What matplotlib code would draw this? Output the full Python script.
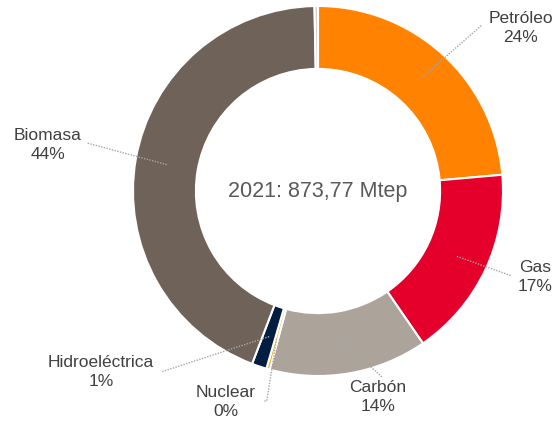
import numpy as np
import matplotlib
matplotlib.use("Agg")
import matplotlib.pyplot as plt

plt.rcParams['font.family'] = ['Liberation Sans', 'DejaVu Sans']

categories = ["Petróleo", "Gas", "Carbón", "Nuclear", "Hidroeléctrica", "Biomasa", "Otros"]
values = [23.6, 16.8, 13.8, 0.3, 1.3, 43.9, 0.3]
colors = ["#FF8200", "#E4002B", "#ACA39A", "#F0B323", "#041E42", "#6E6259", "#D0D0D0"]
center_text = "2021: 873,77 Mtep"

W, H = 555, 425
CX, CY, R = 318, 191, 185  # pixel layout of donut

def px(x, y):
    return (x - CX) / R, (CY - y) / R

# label layout (pixel positions): text center, leader end
label_layout = {
    "Petróleo": ((521, 28), (482, 25)),
    "Gas": ((535, 277), (512, 276)),
    "Carbón": ((378, 397), (382, 377)),
    "Nuclear": ((226, 402), (264, 401)),
    "Hidroeléctrica": ((101, 372), (161, 372)),
    "Biomasa": ((48, 145), (87, 143)),
}

fig = plt.figure(figsize=(W / 100, H / 100), dpi=100)
ax = fig.add_axes([0, 0, 1, 1])

wedges, _ = ax.pie(values, colors=colors, startangle=90, counterclock=False,
                   radius=1.0, wedgeprops=dict(width=0.34, edgecolor="white", linewidth=1.5))

for w, name, v in zip(wedges, categories, values):
    if name not in label_layout:
        continue
    (tx, ty), (ex, ey) = label_layout[name]
    mid = np.deg2rad((w.theta1 + w.theta2) / 2)
    sx, sy = 0.83 * np.cos(mid), 0.83 * np.sin(mid)
    exd, eyd = px(ex, ey)
    if name == "Nuclear":
        xs = [sx, exd + 0.015, exd]
        ys = [sy, eyd, eyd]
    else:
        xs = [sx, exd]
        ys = [sy, eyd]
    ax.plot(xs, ys, color="#A6A6A6", linestyle=(0, (1, 1)), linewidth=1.0, zorder=5)
    txd, tyd = px(tx, ty)
    ax.text(txd, tyd, f"{name}\n{round(v)}%", ha="center", va="center",
            fontsize=12.5, color="#404040", linespacing=1.3)

ax.text(0, 0, center_text, ha="center", va="center", fontsize=15.5, color="#595959")

ax.set_xlim(-CX / R, (W - CX) / R)
ax.set_ylim(-(H - CY) / R, CY / R)
ax.set_aspect("auto")
ax.axis("off")

fig.savefig("out.png", dpi=100)
